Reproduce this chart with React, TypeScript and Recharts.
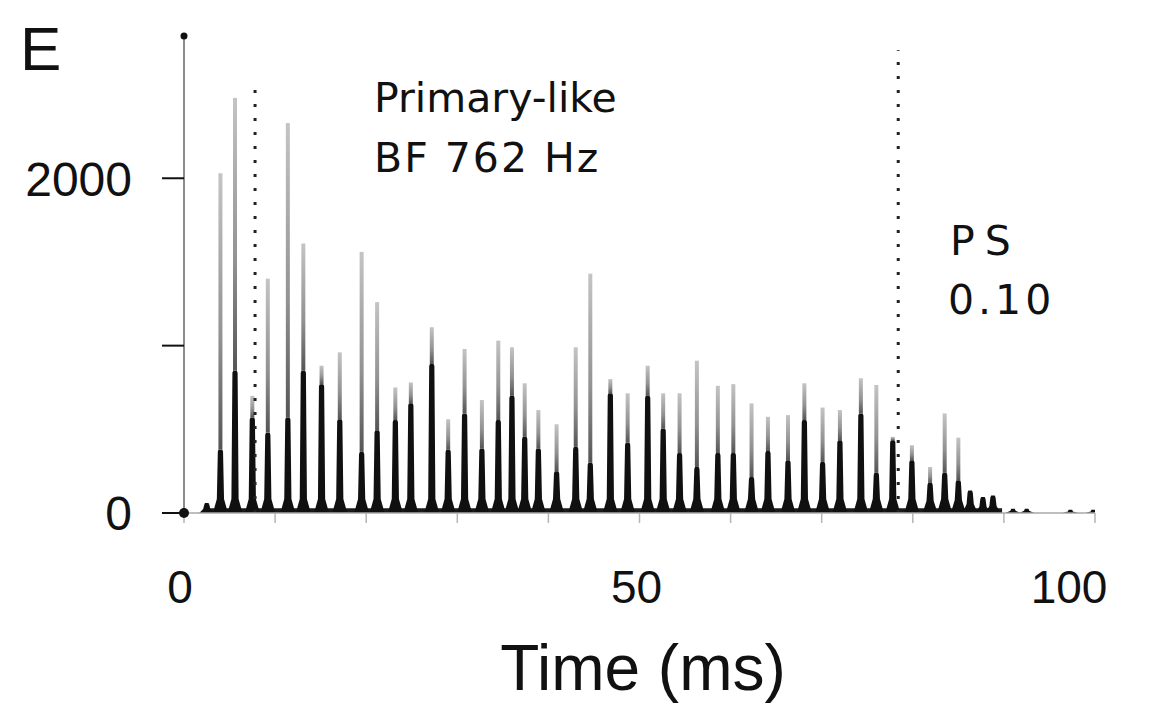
import React from 'react';
import {
  ComposedChart,
  Bar,
  XAxis,
  YAxis,
  ReferenceLine,
  ReferenceArea,
  ReferenceDot,
} from 'recharts';

// Peak times (ms) of the period histogram
const times = [
  2.5, 4.0, 5.6, 7.5, 9.2, 11.4, 13.1, 15.1, 17.1, 19.5,
  21.2, 23.2, 24.9, 27.2, 29.0, 30.8, 32.7, 34.5, 36.0, 37.4,
  38.9, 40.9, 43.0, 44.6, 46.8, 48.7, 50.9, 52.6, 54.4, 56.3,
  58.6, 60.3, 62.3, 64.1, 66.3, 68.1, 70.1, 72.0, 74.3, 76.0,
  77.8, 79.9, 81.9, 83.5, 85.0, 86.3, 87.7, 88.8, 91.0, 92.5,
  97.3, 99.8,
];
// Peak (tip) counts of each spike
const tops = [
  60, 2030, 2480, 700, 1400, 2330, 1610, 880, 960, 1560,
  1260, 750, 780, 1110, 560, 980, 675, 1030, 990, 775,
  615, 530, 990, 1430, 800, 715, 880, 715, 715, 910,
  760, 770, 655, 575, 585, 775, 630, 615, 805, 765,
  455, 405, 275, 595, 450, 135, 95, 105, 25, 25,
  20, 20,
];
// Dense (dark) part of each spike
const darks = [
  60, 380, 850, 570, 480, 570, 850, 770, 560, 365,
  495, 555, 655, 890, 378, 595, 385, 555, 700, 455,
  385, 250, 395, 300, 715, 420, 700, 505, 358, 275,
  358, 358, 215, 370, 315, 555, 305, 435, 595, 240,
  435, 315, 180, 240, 195, 135, 95, 105, 25, 25,
  20, 20,
];

const xTicks = [0, 10, 20, 30, 40, 50, 60, 70, 80, 90, 100];
const xLabelled = [0, 50, 100];
const xLabelShift: Record<number, number> = { 0: -4, 50: -3, 100: -26 };
const yTicks = [0, 1000, 2000];
const yLabelled = [0, 2000];
const yMax = 2850;
const markerTimes = [7.8, 78.4];
const markerTops = [2585, 2765];
const floorRange = [2.8, 89.8];
const floorLevel = 28;

const rows = times.map((t, i) => ({ t, dark: darks[i], rest: tops[i] - darks[i] }));

const DarkShape = (props: any) => {
  const { x, y, width, height } = props;
  if (!height || height <= 0) return <g />;
  const cx = x + width / 2;
  const b = y + height;
  const k = Math.min(14, height * 0.4);
  const pts = `${cx - 7.5},${b} ${cx - 3.6},${b - k} ${cx - 2.6},${y + 2} ${cx - 1.8},${y} ${cx + 1.8},${y} ${cx + 2.6},${y + 2} ${cx + 3.6},${b - k} ${cx + 7.5},${b}`;
  return <polygon points={pts} fill="#101010" />;
};

const SpikeShape = (props: any) => {
  const { x, y, width, height } = props;
  if (!height || height <= 0) return <g />;
  const cx = x + width / 2;
  return <rect x={cx - 2} y={y} width={4} height={height} fill="url(#spikeGrad)" />;
};

const YTick = (props: any) => {
  const { x, y, payload } = props;
  if (!yLabelled.includes(payload.value)) return <g />;
  return (
    <text x={x} y={y} dy="0.36em" textAnchor="end" fontSize={48}
      fontFamily="'Liberation Sans', Arial, sans-serif" fill="#111">
      {payload.value}
    </text>
  );
};

const XTick = (props: any) => {
  const { x, y, payload } = props;
  if (!xLabelled.includes(payload.value)) return <g />;
  return (
    <text x={x + (xLabelShift[payload.value] || 0)} y={y} dy="0.71em" textAnchor="middle" fontSize={46}
      fontFamily="'Liberation Sans', Arial, sans-serif" fill="#111">
      {payload.value}
    </text>
  );
};

const annFont = "'DejaVu Sans', sans-serif";

export default function App() {
  return (
    <div style={{ position: 'absolute', left: 0, top: 0, width: 1158, height: 721, background: '#fff' }}>
      <svg width={0} height={0} style={{ position: 'absolute' }}>
        <defs>
          <linearGradient id="spikeGrad" x1="0" y1="0" x2="0" y2="1">
            <stop offset="0%" stopColor="#c4c4c4" />
            <stop offset="60%" stopColor="#929292" />
            <stop offset="100%" stopColor="#555555" />
          </linearGradient>
        </defs>
      </svg>
      <ComposedChart
        width={1158}
        height={721}
        data={rows}
        margin={{ top: 36, right: 63, bottom: 0, left: 0 }}
        barCategoryGap={0}
      >
        <XAxis
          dataKey="t"
          type="number"
          domain={[0, 100]}
          ticks={xTicks}
          interval={0}
          height={208}
          tickSize={10}
          tickMargin={47}
          tick={<XTick />}
          tickLine={{ stroke: '#b5b5b5', strokeWidth: 1.5 }}
          axisLine={{ stroke: '#a8a8a8', strokeWidth: 1.5 }}
          allowDataOverflow
        />
        <YAxis
          type="number"
          domain={[0, yMax]}
          ticks={yTicks}
          interval={0}
          width={184}
          tickSize={22}
          tickMargin={30}
          tick={<YTick />}
          tickLine={{ stroke: '#111', strokeWidth: 2 }}
          axisLine={{ stroke: '#8c8c8c', strokeWidth: 2 }}
        />
        <ReferenceArea x1={floorRange[0]} x2={floorRange[1]} y1={0} y2={floorLevel}
          fill="#1a1a1a" fillOpacity={1} stroke="none" ifOverflow="visible" />
        <Bar dataKey="dark" stackId="a" barSize={10} isAnimationActive={false} shape={DarkShape} />
        <Bar dataKey="rest" stackId="a" barSize={10} isAnimationActive={false} shape={SpikeShape} />
        {markerTimes.map((mt, i) => (
          <ReferenceLine
            key={i}
            segment={[{ x: mt, y: 0 }, { x: mt, y: markerTops[i] }]}
            stroke="#222"
            strokeWidth={3}
            strokeDasharray="3 11"
            ifOverflow="visible"
          />
        ))}
        <ReferenceDot x={0} y={yMax} r={3.5} fill="#111" stroke="none" ifOverflow="visible" />
        <ReferenceDot x={0} y={0} r={5} fill="#111" stroke="none" ifOverflow="visible" />
      </ComposedChart>
      <svg width={1158} height={721} style={{ position: 'absolute', left: 0, top: 0, pointerEvents: 'none' }}>
        <text x={20} y={70} fontSize={62} fontFamily="'Liberation Sans', Arial, sans-serif" fill="#111">E</text>
        <text x={374} y={112} fontSize={41} fontFamily={annFont} fill="#111">Primary-like</text>
        <text x={374} y={172} fontSize={41} fontFamily={annFont} fill="#111" letterSpacing={2}>BF 762 Hz</text>
        <text x={950} y={255} fontSize={41} fontFamily={annFont} fill="#111" letterSpacing={10}>PS</text>
        <text x={948} y={314} fontSize={41} fontFamily={annFont} fill="#111" letterSpacing={4}>0.10</text>
        <text x={643} y={690} textAnchor="middle" fontSize={64}
          fontFamily="'Liberation Sans', Arial, sans-serif" fill="#111">Time (ms)</text>
      </svg>
    </div>
  );
}
